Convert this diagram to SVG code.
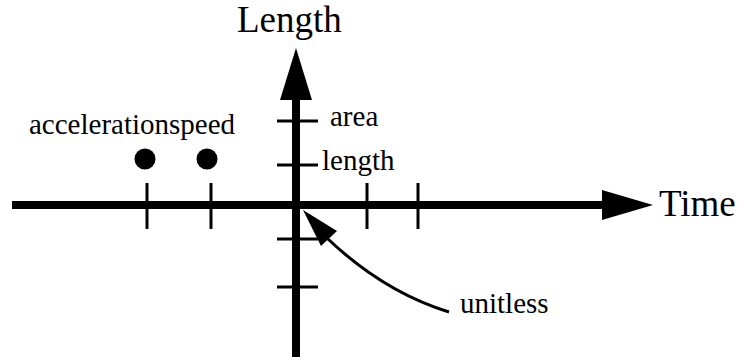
<svg xmlns="http://www.w3.org/2000/svg" width="739" height="362" viewBox="0 0 739 362">
<style>
text{font-family:'Liberation Serif','Times New Roman','DejaVu Serif',serif;fill:#000}
.big{font-size:37px}
.sm{font-size:29px}
.tick{stroke:#000;stroke-width:3;fill:none}
.axis{stroke:#000;stroke-width:8;fill:none}
</style>
<rect width="739" height="362" fill="#fff"/>
<g id="connectors">
  <g id="time-axis">
    <line class="axis" x1="12" y1="205" x2="604" y2="205"/>
    <polygon points="653,205 602,190 602,220" fill="#000"/>
  </g>
  <g id="length-axis">
    <line class="axis" x1="296" y1="357" x2="296" y2="98"/>
    <polygon points="296,48 280,100 312,100" fill="#000"/>
  </g>
  <g id="unitless-arrow">
    <path d="M449,312 Q384,292 328,239" stroke="#000" stroke-width="3" fill="none"/>
    <polygon points="303,210 321,246 337,231" fill="#000"/>
  </g>
</g>
<g id="ticks">
  <line class="tick" x1="147" y1="183" x2="147" y2="229"/>
  <line class="tick" x1="211" y1="183" x2="211" y2="229"/>
  <line class="tick" x1="367" y1="183" x2="367" y2="229"/>
  <line class="tick" x1="418" y1="183" x2="418" y2="229"/>
  <line class="tick" x1="277" y1="121" x2="318" y2="121"/>
  <line class="tick" x1="277" y1="165" x2="318" y2="165"/>
  <line class="tick" x1="277" y1="239" x2="318" y2="239"/>
  <line class="tick" x1="277" y1="287" x2="318" y2="287"/>
</g>
<g id="acceleration"><circle cx="145" cy="159" r="10.5" fill="#000"/></g>
<g id="speed"><circle cx="207" cy="159" r="10.5" fill="#000"/></g>
<g id="labels" font-family="Liberation Serif, serif">
  <text class="big" x="237" y="32">Length</text>
  <text class="big" x="659" y="216">Time</text>
  <text class="sm" x="29" y="134">accelerationspeed</text>
  <text class="sm" x="330" y="126">area</text>
  <text class="sm" x="322" y="170">length</text>
  <text class="sm" x="460" y="313">unitless</text>
</g>
</svg>
